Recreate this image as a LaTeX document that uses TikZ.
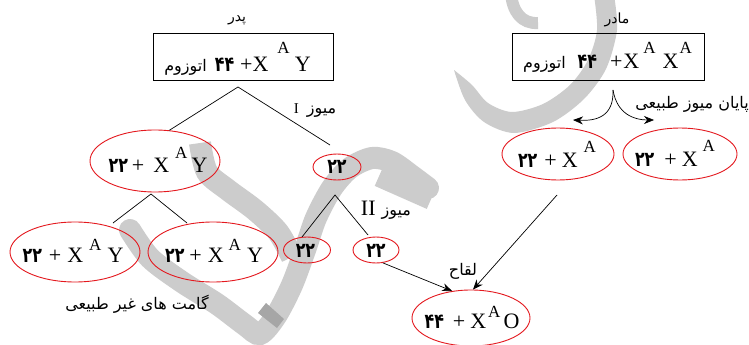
\documentclass[tikz,border=0pt]{standalone}
\usepackage{fontspec}
\setmainfont{Liberation Serif}
\newfontfamily\fa[Script=Arabic]{DejaVu Sans}
\TeXXeTstate=1
\usetikzlibrary{shapes.geometric,arrows.meta}

\definecolor{ered}{RGB}{228,24,30}
\definecolor{wmgray}{RGB}{204,204,204}
\definecolor{wmdark}{RGB}{166,166,166}

% Persian label fonts, bold Persian digits, raised allele letter
\newcommand\lbl{\fa\fontsize{16}{18}\selectfont}
\newcommand\slbl{\fa\fontsize{14}{16}\selectfont}
\newcommand\dnum[1]{\scalebox{0.88}[1.15]{\fa\bfseries\fontsize{18}{18}\selectfont #1}}
\newcommand\supA[1][13pt]{\raisebox{#1}[0pt][0pt]{\fontsize{17}{17}\selectfont A}}
% zero-size content: baseline placed #1 below the node centre
\newcommand\inb[2]{\makebox[0pt]{\raisebox{-#1}[0pt][0pt]{#2}}}

\tikzset{
  cell/.style={ellipse, draw=ered, line width=0.9pt, inner sep=0pt,
               font=\fontsize{22}{24}\selectfont},
  chrom/.style={rectangle, draw=black, line width=0.9pt, inner sep=0pt,
                font=\fontsize{22}{24}\selectfont},
  plain/.style={inner sep=0pt, font=\lbl},
  link/.style={line width=0.7pt},
  arr/.style={line width=0.7pt, -{Stealth[length=10pt,width=8pt]}},
  wm/.style={fill=wmgray, draw=none},
  wmline/.style={draw=wmgray},
}

\begin{document}
\begin{tikzpicture}[x=1pt,y=-1pt]
\useasboundingbox (0,0) rectangle (749,345);
\fill[white] (0,0) rectangle (749,345);

% ---- background logo strokes ----
\fill[wm] plot[smooth] coordinates {(614,-5) (617,30) (606,69) (584,99) (553,122) (514,133) (484,122) (465,100) (454,70)}
  -- plot[smooth] coordinates {(454,70) (472,85) (488,103) (512,112) (543,104) (570,85) (588,60) (597,30) (594,-5)} -- cycle;
\draw[wmline, line width=12pt] (511,-8) .. controls (512,12) and (522,24) .. (538,23);
\draw[wmline, line width=22pt] plot[smooth] coordinates {(200,143) (207,172) (228,190) (255,210) (278,232) (292,257)};
\draw[wmline, line width=22pt, line cap=round] plot[smooth] coordinates {(130,230) (150,258) (182,282) (217,304) (245,325) (260,334) (276,316) (292,285) (305,250) (316,218) (332,188) (350,168) (372,158) (392,162) (412,176) (428,188)};
\draw[wmline, line width=26pt] (380,174) -- (432,197);
\fill[wmdark] (258,313) -- (266,303) -- (284,319) -- (277,328) -- cycle;

% ---- parents ----
\node[plain, font=\slbl] (fatherlbl) at (237,20) {\beginR پدر\endR};
\node[plain, font=\slbl] (motherlbl) at (617,20) {\beginR مادر\endR};

\node[chrom, minimum width=180pt, minimum height=47pt] (father) at (243,56.5)
  {\inb{15pt}{{\lbl\beginR اتوزوم\endR}\hspace{8pt}\dnum{۴۴}\hspace{6pt}+\hspace{0pt}X\hspace{9pt}\supA[18pt]\hspace{5pt}Y\hspace{11pt}}};
\node[chrom, minimum width=192pt, minimum height=47pt] (mother) at (608.5,56.5)
  {\inb{12pt}{{\lbl\beginR اتوزوم\endR}\hspace{12pt}\dnum{۴۴}\hspace{13pt}+\hspace{1pt}X\hspace{4pt}\supA[15pt]\hspace{7pt}X\hspace{1pt}\supA[15pt]\hspace{2pt}}};

% ---- father: meiosis I ----
\node[cell, minimum width=130pt, minimum height=62pt] (f1) at (155,161)
  {\inb{11pt}{\hspace{6pt}\dnum{۲۲}\hspace{4pt}+\hspace{9pt}X\hspace{6pt}\supA[14pt]\hspace{4pt}Y}};
\node[cell, minimum width=48pt, minimum height=26pt] (f2) at (337,167)
  {\inb{6pt}{\dnum{۲۲}}};
\node[plain] (mz1) at (315,111) {{\rmfamily\fontsize{15}{15}\selectfont I}\hspace{8pt}\beginR میوز\endR};

\coordinate (fsplit) at (238,87);
\coordinate (fright) at (330,145);
\draw[link] (f1.65) -- (fsplit) -- (fright);

% ---- father: abnormal gametes ----
\node[cell, minimum width=130pt, minimum height=60pt] (f11) at (75,252)
  {\inb{10pt}{\dnum{۲۲}\hspace{7pt}+\hspace{6pt}X\hspace{6pt}\supA[12pt]\hspace{6pt}Y\hspace{4pt}}};
\node[cell, minimum width=130pt, minimum height=60pt] (f12) at (213,252)
  {\inb{10pt}{\hspace{2pt}\dnum{۲۲}\hspace{5pt}+\hspace{6pt}X\hspace{5pt}\supA[12pt]\hspace{6pt}Y}};
\node[plain] (gam) at (137,304) {\beginR گامت های غیر طبیعی\endR};

\coordinate (f1split) at (151,194);
\coordinate (f11top) at (113,223);
\coordinate (f12top) at (187,223);
\draw[link] (f11top) -- (f1split) -- (f12top);

% ---- father: meiosis II ----
\node[cell, minimum width=47pt, minimum height=26pt] (f21) at (307,250)
  {\inb{7pt}{\hspace{-3pt}\dnum{۲۲}}};
\node[cell, minimum width=46pt, minimum height=26pt] (f22) at (376,250)
  {\inb{7pt}{\dnum{۲۲}}};
\node[plain] (mz2) at (386,210) {{\rmfamily\fontsize{22}{22}\selectfont II}\hspace{6pt}\beginR میوز\endR};

\coordinate (f2split) at (335,195);
\coordinate (f21top) at (302,237);
\coordinate (f22top) at (368,235);
\draw[link] (f21top) -- (f2split) -- (f22top);

% ---- mother: normal meiosis ----
\node[cell, minimum width=112pt, minimum height=52pt] (m1) at (558,154)
  {\inb{13pt}{\dnum{۲۲}\hspace{7pt}+\hspace{5pt}X\hspace{6pt}\supA[15pt]\hspace{2pt}}};
\node[cell, minimum width=114pt, minimum height=52pt] (m2) at (680,154)
  {\inb{12pt}{\dnum{۲۲}\hspace{10pt}+\hspace{5pt}X\hspace{5pt}\supA[15pt]\hspace{10pt}}};
\node[plain, anchor=east] (endlbl) at (749,104) {\beginR پایان میوز طبیعی\endR};

\coordinate (msplit) at (613,90);
\coordinate (mleft) at (573,120);
\coordinate (mright) at (654,120);
\draw[arr] (msplit) .. controls (614,117) and (596,121) .. (mleft);
\draw[arr] (msplit) .. controls (617,114) and (634,120) .. (mright);

% ---- fertilisation ----
\node[cell, minimum width=118pt, minimum height=56pt] (zyg) at (471,318)
  {\inb{10pt}{\hspace{2pt}\dnum{۴۴}\hspace{9pt}+\hspace{5pt}X\hspace{2pt}\supA[11pt]\hspace{3pt}O}};
\node[plain] (fert) at (463,271) {\beginR لقاح\endR};

\coordinate (mdown) at (557,195);
\draw[arr] (f22.-62) -- (zyg.125);
\draw[arr] (mdown) -- (zyg.86);
\end{tikzpicture}
\end{document}
